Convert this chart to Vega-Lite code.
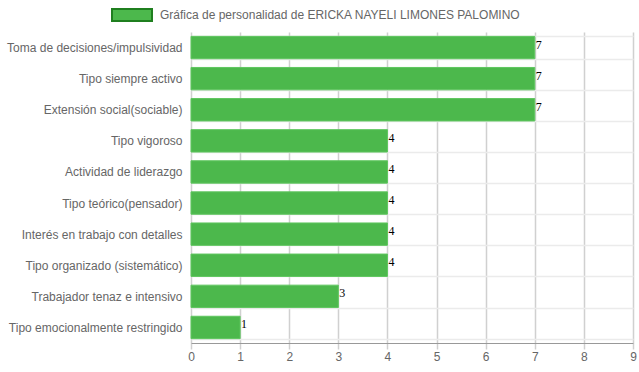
{
  "$schema": "https://vega.github.io/schema/vega-lite/v6.json",
  "width": 442,
  "height": 311,
  "autosize": "none",
  "padding": {"left": 191, "top": 32, "right": 6, "bottom": 29},
  "background": "white",
  "config": {"view": {"stroke": null}, "font": "Liberation Sans"},
  "data": {
    "values": [
      {"rasgo": "Toma de decisiones/impulsividad", "valor": 7, "serie": "Gráfica de personalidad de ERICKA NAYELI LIMONES PALOMINO"},
      {"rasgo": "Tipo siempre activo", "valor": 7, "serie": "Gráfica de personalidad de ERICKA NAYELI LIMONES PALOMINO"},
      {"rasgo": "Extensión social(sociable)", "valor": 7, "serie": "Gráfica de personalidad de ERICKA NAYELI LIMONES PALOMINO"},
      {"rasgo": "Tipo vigoroso", "valor": 4, "serie": "Gráfica de personalidad de ERICKA NAYELI LIMONES PALOMINO"},
      {"rasgo": "Actividad de liderazgo", "valor": 4, "serie": "Gráfica de personalidad de ERICKA NAYELI LIMONES PALOMINO"},
      {"rasgo": "Tipo teórico(pensador)", "valor": 4, "serie": "Gráfica de personalidad de ERICKA NAYELI LIMONES PALOMINO"},
      {"rasgo": "Interés en trabajo con detalles", "valor": 4, "serie": "Gráfica de personalidad de ERICKA NAYELI LIMONES PALOMINO"},
      {"rasgo": "Tipo organizado (sistemático)", "valor": 4, "serie": "Gráfica de personalidad de ERICKA NAYELI LIMONES PALOMINO"},
      {"rasgo": "Trabajador tenaz e intensivo", "valor": 3, "serie": "Gráfica de personalidad de ERICKA NAYELI LIMONES PALOMINO"},
      {"rasgo": "Tipo emocionalmente restringido", "valor": 1, "serie": "Gráfica de personalidad de ERICKA NAYELI LIMONES PALOMINO"}
    ]
  },
  "encoding": {
    "y": {
      "field": "rasgo",
      "type": "nominal",
      "sort": null,
      "title": null,
      "scale": {"paddingInner": 0.28, "paddingOuter": 0.14},
      "axis": {
        "tickBand": "extent",
        "ticks": false,
        "domain": false,
        "grid": true,
        "gridColor": "#ebebeb",
        "gridWidth": 1.5,
        "labelFont": "Liberation Sans",
        "labelFontSize": 12,
        "labelColor": "#666666",
        "labelPadding": 9,
        "labelLimit": 200
      }
    },
    "x": {
      "field": "valor",
      "type": "quantitative",
      "title": null,
      "scale": {"domain": [0, 9], "nice": false},
      "axis": {
        "values": [0, 1, 2, 3, 4, 5, 6, 7, 8, 9],
        "grid": true,
        "gridColor": "#d0d0d0",
        "gridWidth": 1.5,
        "domainColor": "#999999",
        "domainWidth": 1,
        "tickColor": "#d0d0d0",
        "tickWidth": 1.5,
        "tickSize": 6,
        "labelFont": "Liberation Sans",
        "labelFontSize": 12,
        "labelColor": "#666666",
        "labelPadding": 2,
        "labelFlush": false
      }
    }
  },
  "layer": [
    {
      "mark": {"type": "bar", "stroke": "#5fc65f", "strokeWidth": 1},
      "encoding": {
        "color": {
          "field": "serie",
          "type": "nominal",
          "scale": {"range": ["#4cb84c"]},
          "legend": {
            "title": null,
            "orient": "none",
            "legendX": -80,
            "legendY": -38,
            "symbolType": "M-1,-0.3H1V0.3H-1Z",
            "symbolSize": 1600,
            "symbolStrokeColor": "#1f7f1f",
            "symbolStrokeWidth": 2,
            "symbolFillColor": "#4cb84c",
            "symbolOpacity": 1,
            "labelFont": "Liberation Sans",
            "labelFontSize": 12,
            "labelColor": "#666666",
            "labelLimit": 500,
            "labelOffset": 7
          }
        }
      }
    },
    {
      "mark": {"type": "text", "align": "left", "baseline": "top", "dx": 1, "dy": -8, "font": "Liberation Serif", "fontSize": 12, "color": "#000000"},
      "encoding": {"text": {"field": "valor", "type": "quantitative"}}
    }
  ]
}
